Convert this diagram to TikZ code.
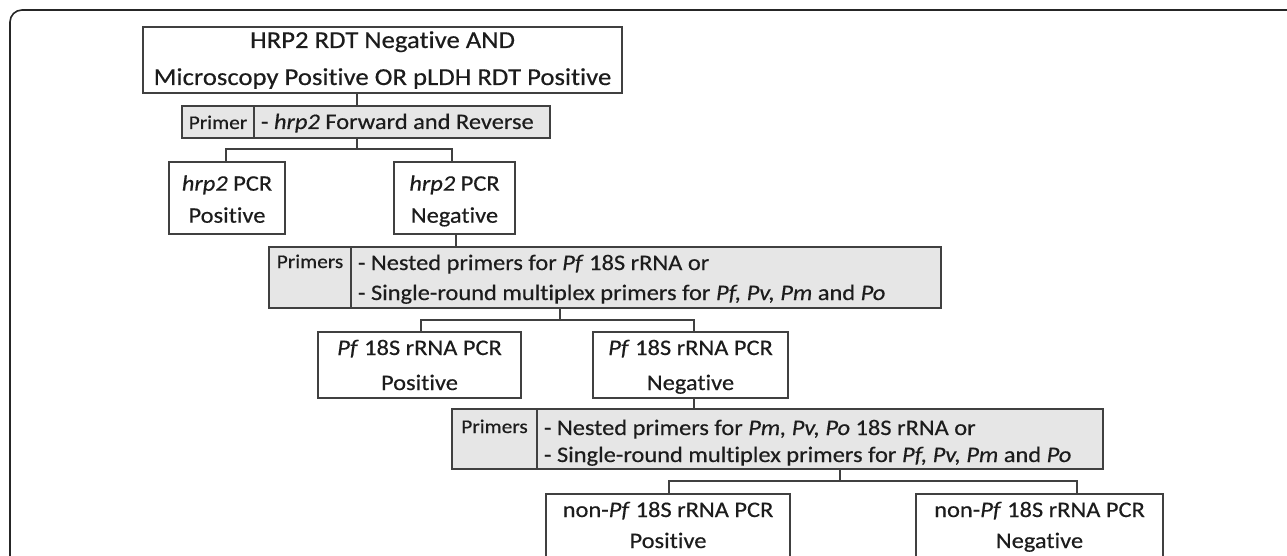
\documentclass[tikz,border=0pt]{standalone}
\usepackage{fontspec}
\setmainfont{Carlito}[FakeStretch=1.1, FakeBold=0.4, Ligatures=NoCommon]
\usetikzlibrary{calc}
\definecolor{boxline}{HTML}{404040}
\definecolor{primfill}{HTML}{E6E6E6}
\definecolor{txt}{HTML}{1C1C1C}
\newcommand\twolines[2]{\vtop{\halign{\hfil##\hfil\cr#1\cr#2\cr}}}
\newcommand\twoleft[2]{\vtop{\halign{##\hfil\cr#1\cr#2\cr}}}
\tikzset{
  box/.style={draw=boxline, line width=1.1pt, rectangle, inner xsep=0pt, inner ysep=0pt,
    outer sep=0pt, anchor=north west, text=txt},
  prim/.style={box, fill=primfill},
  lbl/.style={prim, font=\fontsize{19.4}{22}\selectfont},
  bigfont/.style={font=\fontsize{24.3}{37}\selectfont},
  conn/.style={draw=boxline, line width=1.1pt},
  frame/.style={draw=black!85, line width=1.6pt, rounded corners=12pt}
}
\begin{document}
\begin{tikzpicture}[x=1pt, y=-1pt]
\useasboundingbox (0,0) rectangle (1287,556);
\fill[white] (0,0) rectangle (1287,556);
\clip (0,0) rectangle (1287,556);
\draw[frame] (1300,10) -- (10,10) -- (10,570);

% level 0
\node[box, bigfont, minimum width=479pt, text height=21pt, text depth=45pt] (top) at (143,27)
  {\twolines{HRP2 RDT Negative AND}{Microscopy Positive OR pLDH RDT Positive}};

% primer 1
\node[lbl, minimum width=72pt, text height=23pt, text depth=9pt] (p1l) at (182,106) {Primer};
\node[prim, font=\fontsize{22.2}{27}\selectfont, minimum width=296pt, inner xsep=7pt,
  text height=23pt, text depth=9pt] (p1t) at (254,106)
  {\makebox[282pt][l]{- \textit{hrp2} Forward and Reverse}};

% hrp2 results
\node[box, font=\fontsize{22.2}{32}\selectfont, minimum width=116pt, text height=28.7pt, text depth=43.3pt]
  (hpos) at (169,162) {\twolines{\textit{hrp2} PCR}{Positive}};
\node[box, font=\fontsize{22.2}{32}\selectfont, minimum width=121pt, text height=28.7pt, text depth=43.3pt]
  (hneg) at (394,162) {\twolines{\textit{hrp2} PCR}{Negative}};

% primers 2
\node[lbl, minimum width=82pt, text height=21pt, text depth=40pt] (p2l) at (269,247) {Primers};
\node[prim, font=\fontsize{22.2}{30}\selectfont, minimum width=590pt, inner xsep=7pt,
  text height=23pt, text depth=38pt] (p2t) at (351,247)
  {\makebox[576pt][l]{\twoleft{- Nested primers for \textit{Pf} 18S rRNA or}{- Single-round multiplex primers for \textit{Pf, Pv, Pm} and \textit{Po}}}};

% Pf results
\node[box, font=\fontsize{22.2}{35}\selectfont, minimum width=203pt, text height=23pt, text depth=43pt]
  (pfpos) at (318,332) {\twolines{\textit{Pf} 18S rRNA PCR}{Positive}};
\node[box, font=\fontsize{22.2}{35}\selectfont, minimum width=195pt, text height=23pt, text depth=43pt]
  (pfneg) at (593,332) {\twolines{\textit{Pf} 18S rRNA PCR}{Negative}};

% primers 3
\node[lbl, minimum width=85pt, text height=24pt, text depth=36pt] (p3l) at (452,409) {Primers};
\node[prim, font=\fontsize{22.2}{27}\selectfont, minimum width=566pt, inner xsep=7pt,
  text height=26pt, text depth=34pt] (p3t) at (537,409)
  {\makebox[552pt][l]{\twoleft{- Nested primers for \textit{Pm, Pv, Po} 18S rRNA or}{- Single-round multiplex primers for \textit{Pf, Pv, Pm} and \textit{Po}}}};

% non-Pf results
\node[box, font=\fontsize{22.2}{31}\selectfont, minimum width=244pt, text height=23pt, text depth=48pt]
  (npos) at (546,494) {\twolines{non-\textit{Pf} 18S rRNA PCR}{Positive}};
\node[box, font=\fontsize{22.2}{31}\selectfont, minimum width=247pt, text height=23pt, text depth=48pt]
  (nneg) at (916,494) {\twolines{non-\textit{Pf} 18S rRNA PCR}{Negative}};

% connector helpers
\coordinate (c1) at (357,0);
\coordinate (j1) at (357,149);
\coordinate (a1) at (226,0);
\coordinate (a2) at (452,0);
\coordinate (a3) at (456,0);
\coordinate (j2) at (560,320);
\coordinate (a4) at (421,0);
\coordinate (a5) at (694,0);
\coordinate (j3) at (840,481);
\coordinate (a6) at (669,0);
\coordinate (a7) at (1077,0);

\draw[conn] (top.south -| c1) -- (p1t.north -| c1);
\draw[conn] (p1t.south -| j1) -- (j1);
\draw[conn] (hpos.north -| a1) |- (j1) -| (hneg.north -| a2);
\draw[conn] (hneg.south -| a3) -- (p2t.north -| a3);
\draw[conn] (p2t.south -| j2) -- (j2);
\draw[conn] (pfpos.north -| a4) |- (j2) -| (pfneg.north -| a5);
\draw[conn] (pfneg.south -| a5) -- (p3t.north -| a5);
\draw[conn] (p3t.south -| j3) -- (j3);
\draw[conn] (npos.north -| a6) |- (j3) -| (nneg.north -| a7);
\end{tikzpicture}
\end{document}
